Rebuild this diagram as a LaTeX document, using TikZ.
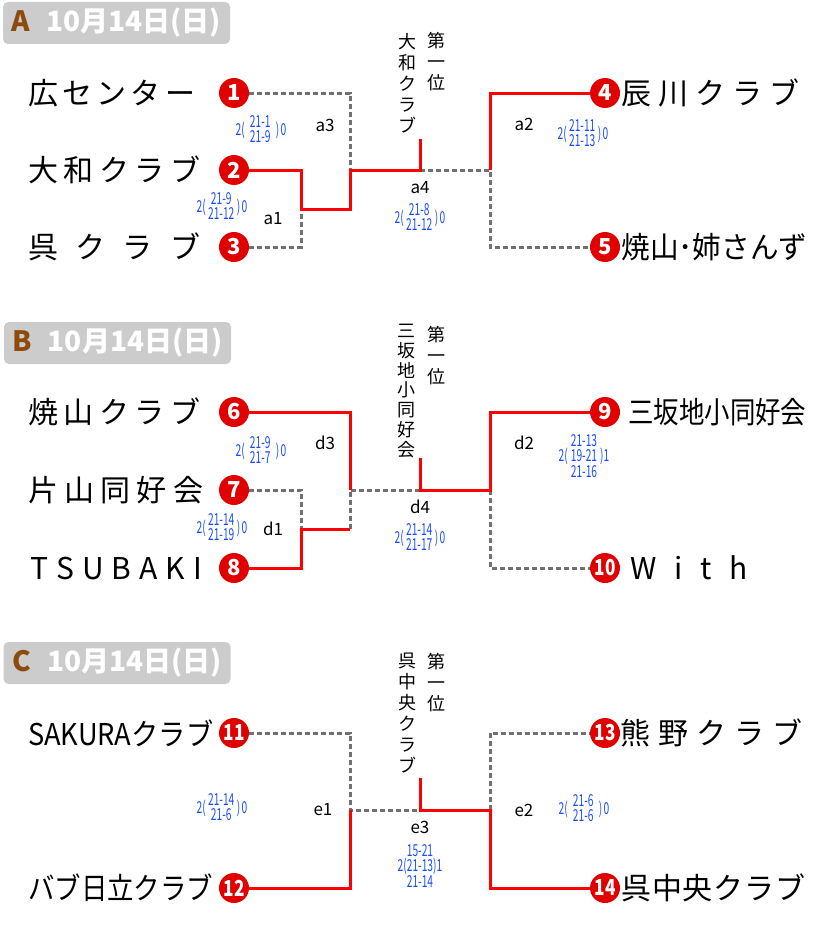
\documentclass[tikz,border=0pt]{standalone}
\usepackage{fontspec}
\usepackage{graphicx}
\setmainfont{Noto Sans CJK JP}
\newfontfamily\narrowfont[FakeStretch=0.78]{Noto Sans CJK JP}
\newfontfamily\scorefont[FakeStretch=0.62]{Noto Sans CJK JP}
\usetikzlibrary{positioning}
\definecolor{Win}{HTML}{FF0000}
\definecolor{Ball}{HTML}{E00000}
\definecolor{Lose}{HTML}{707070}
\definecolor{Score}{HTML}{1A4CFF}
\definecolor{Tab}{HTML}{CCCCCC}
\definecolor{TabLetter}{HTML}{8C4A0C}
\makeatletter
\def\spc@x#1{\ifx#1\@nil\else\hfill#1\expandafter\spc@x\fi}
\def\spc@first#1{#1\spc@x}
\newcommand\spaced[2]{\makebox[#1][l]{\spc@first#2\@nil}}
\makeatother
\newcommand\squeezed[2]{\resizebox{#1}{\height}{#2}}
\newcommand\gamescore[4]{#1(\begin{tabular}{@{}c@{}}\makebox[31pt]{#2}\\\makebox[31pt]{#3}\end{tabular})\hspace{1.5pt}#4}

\begin{document}
\begin{tikzpicture}[x=1pt,y=-1pt,
 tab/.style={fill=Tab,rounded corners=5pt,minimum width=227pt,minimum height=42pt,
   inner sep=0pt,text=white,font=\fontsize{28}{28}\selectfont\bfseries},
 ball/.style={circle,fill=Ball,text=white,minimum size=30pt,inner sep=0pt,
   font=\fontsize{22}{22}\selectfont\bfseries},
 ball2/.style={ball,font=\narrowfont\fontsize{22}{22}\selectfont\bfseries},
 team/.style={inner sep=0pt,font=\fontsize{30}{30}\selectfont},
 win/.style={Win,line width=3pt},
 lose/.style={Lose,line width=3pt,dash pattern=on 5pt off 3pt},
 rnd/.style={inner sep=0pt,font=\fontsize{17}{17}\selectfont},
 score/.style={Score,inner sep=0pt,font=\scorefont\fontsize{16.5}{12.5}\selectfont},
 score3/.style={score,align=center,font=\scorefont\fontsize{16.5}{15}\selectfont},
 vtxt/.style={align=center,inner sep=0pt,anchor=north,font=\fontsize{18}{21}\selectfont}]
\useasboundingbox (0,0) rectangle (840,950);

% A
\node[tab] (hA) at (116.5,23) {{\color{TabLetter}A}\hspace{16pt}10月14日(日)};
\node[ball] (n1) at (234,93) {1};
\node[ball] (n2) at (234,170) {2};
\node[ball] (n3) at (234,247) {3};
\node[ball] (n4) at (605,93) {4};
\node[ball] (n5) at (605,247) {5};
\node[team,anchor=west] (t1) at (28,93) {\spaced{167pt}{広センター}};
\node[team,anchor=west] (t2) at (28,170) {\spaced{172pt}{大和クラブ}};
\node[team,anchor=west] (t3) at (28,247) {\spaced{172pt}{呉クラブ}};
\node[team,right=1pt of n4] (t4) {\spaced{178pt}{辰川クラブ}};
\node[team,right=1pt of n5] (t5) {\squeezed{186pt}{焼山･姉さんず}};
\coordinate (a1) at (301,209);
\coordinate (a3) at (350,170);
\coordinate (a4) at (420,170);
\coordinate (a4top) at (420,139);
\coordinate (a2) at (490,170);
\draw[lose] (n1) -| (a3);
\draw[lose] (n3) -| (a1);
\draw[lose] (a4) -- (a2) |- (n5);
\draw[win] (n2) -| (a1) -| (a3) -- (a4) -- (a4top);
\draw[win] (a2) |- (n4);
\node[rnd] (la3) at (325,125) {a3};
\node[rnd] (la1) at (273,219) {a1};
\node[rnd] (la4) at (420,188) {a4};
\node[rnd] (la2) at (524,124) {a2};
\node[score] (sa3) at (261,131) {\gamescore{2}{21-1}{21-9}{0}};
\node[score] (sa1) at (222,208) {\gamescore{2}{21-9}{21-12}{0}};
\node[score] (sa4) at (420,219) {\gamescore{2}{21-8}{21-12}{0}};
\node[score] (sa2) at (583,135) {\gamescore{2}{21-11}{21-13}{0}};
\node[vtxt] (wA) at (407,33) {大\\和\\ク\\ラ\\ブ};
\node[vtxt] (pA) at (436,32) {第\\一\\位};

% B
\node[tab] (hB) at (117.5,343) {{\color{TabLetter}B}\hspace{16pt}10月14日(日)};
\node[ball] (n6) at (234,412) {6};
\node[ball] (n7) at (234,490) {7};
\node[ball] (n8) at (234,568) {8};
\node[ball] (n9) at (605,412) {9};
\node[ball2] (n10) at (605,568) {10};
\node[team,anchor=west] (t6) at (28,412) {\spaced{172pt}{焼山クラブ}};
\node[team,anchor=west] (t7) at (28,490) {\spaced{175pt}{片山同好会}};
\node[team,anchor=west] (t8) at (30,568) {\spaced{172pt}{TSUBAKI}};
\node[team,right=8pt of n9] (t9) {\squeezed{178pt}{三坂地小同好会}};
\node[team,right=10pt of n10] (t10) {\spaced{117pt}{With}};
\coordinate (d1) at (301,529);
\coordinate (d1e) at (350,529);
\coordinate (d3) at (350,490);
\coordinate (d4) at (420,490);
\coordinate (d4top) at (420,458);
\coordinate (d2) at (490,490);
\draw[lose] (n7) -| (d1);
\draw[lose] (d1e) -- (d3) -- (d4);
\draw[lose] (d2) |- (n10);
\draw[win] (n8) -| (d1) -- (d1e);
\draw[win] (n6) -| (d3);
\draw[win] (d4top) -- (d4) -- (d2) |- (n9);
\node[rnd] (ld3) at (325,443) {d3};
\node[rnd] (ld1) at (273,529) {d1};
\node[rnd] (ld4) at (420,507) {d4};
\node[rnd] (ld2) at (524,443) {d2};
\node[score] (sd3) at (261,452) {\gamescore{2}{21-9}{21-7}{0}};
\node[score] (sd1) at (222,529) {\gamescore{2}{21-14}{21-19}{0}};
\node[score] (sd4) at (420,539) {\gamescore{2}{21-14}{21-17}{0}};
\node[score3] (sd2) at (584,456) {21-13\\2(\hspace{3pt}19-21\hspace{3pt})1\\21-16};
\node[vtxt,font=\fontsize{18}{19.8}\selectfont] (wB) at (406,324) {三\\坂\\地\\小\\同\\好\\会};
\node[vtxt] (pB) at (436,326) {第\\一\\位};

% C
\node[tab] (hC) at (117,663) {{\color{TabLetter}C}\hspace{16pt}10月14日(日)};
\node[ball2] (n11) at (234,733) {11};
\node[ball2] (n12) at (234,888) {12};
\node[ball2] (n13) at (605,733) {13};
\node[ball2] (n14) at (605,888) {14};
\node[team,anchor=west] (t11) at (28,733) {\squeezed{185pt}{SAKURAクラブ}};
\node[team,anchor=west] (t12) at (28,888) {\squeezed{185pt}{バブ日立クラブ}};
\node[team,right=0pt of n13] (t13) {\spaced{182pt}{熊野クラブ}};
\node[team,right=1pt of n14] (t14) {\spaced{184pt}{呉中央クラブ}};
\coordinate (e1) at (350,810);
\coordinate (e3) at (420,810);
\coordinate (e3top) at (420,778);
\coordinate (e2) at (490,810);
\draw[lose] (n11) -| (e1) -- (e3);
\draw[lose] (e2) |- (n13);
\draw[win] (n12) -| (e1);
\draw[win] (e3top) -- (e3) -- (e2) |- (n14);
\node[rnd] (le1) at (323,810) {e1};
\node[rnd] (le3) at (420,827) {e3};
\node[rnd] (le2) at (524,810) {e2};
\node[score] (se1) at (222,809) {\gamescore{2}{21-14}{21-6}{0}};
\node[score3] (se3) at (420,866) {15-21\\2(21-13)1\\21-14};
\node[score] (se2) at (584,810) {\gamescore{2}{21-6}{21-6}{0}};
\node[vtxt] (wC) at (407,653) {呉\\中\\央\\ク\\ラ\\ブ};
\node[vtxt] (pC) at (436,653) {第\\一\\位};
\end{tikzpicture}
\end{document}
